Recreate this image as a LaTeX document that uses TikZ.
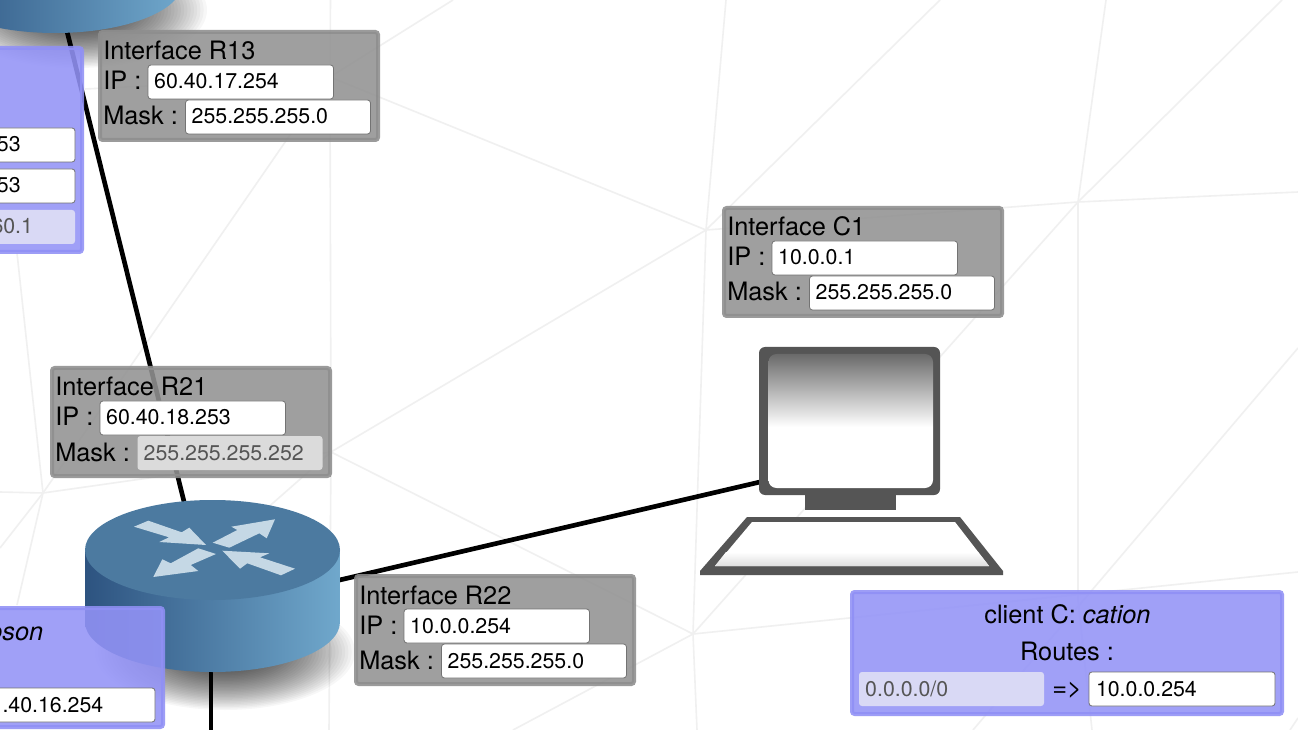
\documentclass[tikz,border=0pt]{standalone}
\usepackage{fontspec}
\setmainfont{TeX Gyre Heros}
\definecolor{meshc}{HTML}{F0F0F0}
\definecolor{pgray}{HTML}{929292}
\definecolor{pgrayb}{HTML}{8E8E8E}
\definecolor{ppur}{HTML}{9393F7}
\definecolor{ppurb}{HTML}{9090F5}
\definecolor{dimgray}{HTML}{DBDBDB}
\definecolor{dimpur}{HTML}{D9D9F5}
\definecolor{dimtxt}{HTML}{555555}
\definecolor{rtop}{HTML}{4C7AA0}
\definecolor{rleft}{HTML}{2D5380}
\definecolor{rmid}{HTML}{4D7DA3}
\definecolor{rright}{HTML}{70A8CC}
\definecolor{rarrow}{HTML}{C5D8E5}
\definecolor{pcdark}{HTML}{555555}
\definecolor{scrtop}{HTML}{6A6A6A}
\pgfdeclareverticalshading{screenshade}{100bp}{color(0bp)=(white); color(47.75bp)=(white); color(75bp)=(scrtop); color(100bp)=(scrtop)}
\tikzset{
  mesh/.style={draw=meshc,line width=1.2pt},
  link/.style={draw=black,line width=3.5pt},
  lbl/.style={anchor=base west,inner sep=0pt,font=\fontsize{19}{22}\selectfont,text=black},
  grayp/.style={draw=pgrayb,line width=3pt,fill=pgray,fill opacity=.88,draw opacity=.88,rounded corners=2pt,outer sep=0pt,anchor=north west,inner sep=0pt},
  purp/.style={draw=ppurb,line width=3pt,fill=ppur,fill opacity=.88,draw opacity=.88,rounded corners=2pt,outer sep=0pt,anchor=north west,inner sep=0pt},
  fieldbase/.style={rounded corners=2.2pt,outer sep=0pt,inner ysep=0pt,text height=18pt,text depth=7.5pt,align=left,font=\fontsize{16}{18}\selectfont},
  livefield/.style={fieldbase,draw=black!55,line width=.6pt,fill=white,text=black},
  deadgray/.style={fieldbase,fill=dimgray,text=dimtxt},
  deadpur/.style={fieldbase,fill=dimpur,text=dimtxt}
}
\newcommand\fieldbox[7]{%
  \pgfmathsetmacro\fw{(#4-2*#5)*0.75}\pgfmathsetmacro\fp{#5*0.75}%
  \node[#6,anchor=north west,text width=\fw pt,inner xsep=\fp pt] (#1) at (#2,#3) {#7};}
% name, L, T, title, ip, mask text, mask style
\newcommand\ifpanel[7]{%
  \node[grayp,minimum width=208.5pt,minimum height=81pt] (#1) at ({#2+2},{#3+2}) {};
  \node[lbl] (#1t) at ({#2+5},{#3+30}) {Interface #4};
  \node[lbl] (#1i) at ({#2+5},{#3+60}) {IP :};
  \node[lbl] (#1m) at ({#2+5},{#3+95}) {Mask :};
  \fieldbox{#1ip}{#2+50}{#3+35}{185.5}{6.2}{livefield}{#5}
  \fieldbox{#1mk}{#2+87.5}{#3+70}{185}{6.2}{#7}{#6}
}
\newcommand\routerbody[2]{%
  \shade[left color=rleft,middle color=rmid,right color=rright]
    ({#1-127.5},{#2-60}) -- ({#1-127.5},{#2+12}) arc[start angle=180,end angle=0,x radius=127.5,y radius=50] -- ({#1+127.5},{#2-60}) -- cycle;
  \fill[rtop] (#1,{#2-60}) ellipse[x radius=127.5,y radius=50];
}
\newcommand\routershadow[2]{%
  \foreach \s in {1,.975,...,.1}{%
    \fill[black,opacity=.03] (#1,#2) ellipse[x radius={130*\s},y radius={58*\s}];
  }}
\begin{document}
\begin{tikzpicture}[x=.75pt,y=-.75pt]
\path[use as bounding box,clip] (0,0) rectangle (1298,730);
\fill[white] (0,0) rectangle (1298,730);
% mesh hubs
\coordinate (A) at (706,230);
\coordinate (B) at (1078,202);
\coordinate (C) at (693,634);
\coordinate (D) at (43,493);
\coordinate (E) at (331,452);
\coordinate (F) at (330,77);
\coordinate (G) at (1078,600);
\coordinate (e1) at (726,0);
\coordinate (e2) at (940,0);
\coordinate (e3) at (453,0);
\coordinate (e4) at (1106,0);
\coordinate (e5) at (1282,0);
\coordinate (e6) at (1298,192);
\coordinate (e7) at (1298,572);
\coordinate (e8) at (1298,348);
\coordinate (e9) at (973,730);
\coordinate (e10) at (1092,730);
\coordinate (e11) at (697,730);
\coordinate (e12) at (513,730);
\coordinate (e13) at (329,730);
\coordinate (e14) at (330.5,0);
\coordinate (e15) at (0,492);
\coordinate (e16) at (0,548);
\coordinate (e17) at (17,253);
\coordinate (e18) at (17,605);
\coordinate (e19) at (85,89);
\coordinate (e20) at (140,620);
\coordinate (e21) at (1290,730);
\coordinate (e22) at (1298,718);
\foreach \a/\b in {A/e1,A/e2,A/B,A/E,A/F,A/C,C/e11,B/C,B/e4,B/e5,B/e6,B/G,G/e10,C/e7,e8/e9,C/E,C/e12,E/D,E/e20,F/e3,F/e19,F/D,D/e15,D/e16,D/e17,D/e18,e14/F,F/E,E/e13,e21/e22}
  \draw[mesh] (\a) -- (\b);
% shadows
\routershadow{77}{10}
\routershadow{225}{652}
% links
\coordinate (RA) at (55,-17);
\coordinate (RB) at (211,610);
\coordinate (PC) at (850,461);
\coordinate (down) at (211,731);
\draw[link] (RA) -- (RB);
\draw[link] (RB) -- (PC);
\draw[link] (RB) -- (down);
% routers
\routerbody{55}{-29}
\routerbody{212.5}{610}
\foreach \pts in {
 {(134,526.7)--(148.3,520.7)--(181.7,532.3)--(189.3,527.7)--(206,545)--(159.3,542)--(169,537.3)--cycle},
 {(212.7,542.7)--(237.3,530)--(231.3,526.7)--(275,519.3)--(266.7,538.3)--(259.3,533.3)--(229.3,547.7)--cycle},
 {(198.3,548.3)--(216,554)--(190.7,565)--(198.3,571)--(153.3,577)--(162.3,559.3)--(170.7,563.3)--cycle},
 {(222.3,550.7)--(269.3,553.3)--(260,557.3)--(295,568.7)--(281,575.3)--(247.3,563.3)--(240,568.7)--cycle}}
 \fill[rarrow] \pts;
% computer
\fill[pcdark,rounded corners=4.5pt] (759,347) rectangle (940,495);
\path[shading=screenshade,rounded corners=6pt] (768.5,354) rectangle (933,488);
\fill[pcdark] (805,495) rectangle (896,510);
\fill[pcdark] (747,517) -- (960,517) -- (1003,571) -- (1003,575) -- (700,575) -- (700,571) -- cycle;
\fill[white] (752,522) -- (955,522) -- (989,566) -- (715,566) -- cycle;
\shade[top color=white,bottom color=black!13] (726,552) -- (978,552) -- (989,566) -- (715,566) -- cycle;
% panels
\ifpanel{Rb}{98}{30}{R13}{60.40.17.254}{255.255.255.0}{livefield}
\ifpanel{Cc}{722}{206}{C1}{10.0.0.1}{255.255.255.0}{livefield}
\ifpanel{Rc}{50}{366}{R21}{60.40.18.253}{255.255.255.252}{deadgray}
\ifpanel{Rd}{354}{574}{R22}{10.0.0.254}{255.255.255.0}{livefield}
% partial left routing panel
\node[purp,minimum width=90*.75pt,minimum height=153pt] (lp) at (-8,48) {};
\fieldbox{lpa}{-5}{128}{80}{2}{livefield}{53}
\fieldbox{lpb}{-5}{169}{80}{2}{livefield}{53}
\fieldbox{lpc}{-10}{210}{85}{1.5}{deadpur}{60.1}
% partial lower routing panel
\node[purp,minimum width=171*.75pt,minimum height=119*.75pt] (lq) at (-8,608) {};
\node[lbl,anchor=base east,font=\fontsize{19}{22}\selectfont\itshape] (lqt) at (43.5,640) {oson};
\fieldbox{lqa}{-5}{688}{160}{7.5}{livefield}{.40.16.254}
% client routing panel
\node[purp,minimum width=430*.75pt,minimum height=122*.75pt] (cp) at (852,592) {};
\node[lbl,anchor=base] (cpt) at (1067.5,623.5) {client C: \textit{cation}};
\node[lbl,anchor=base] (cpr) at (1067,660) {Routes :};
\fieldbox{cpa}{859}{672}{185}{6.2}{deadpur}{0.0.0.0/0}
\node[lbl] (cpb) at (1052,696) {=>};
\fieldbox{cpc}{1089}{672}{186}{7}{livefield}{10.0.0.254}
\end{tikzpicture}
\end{document}
